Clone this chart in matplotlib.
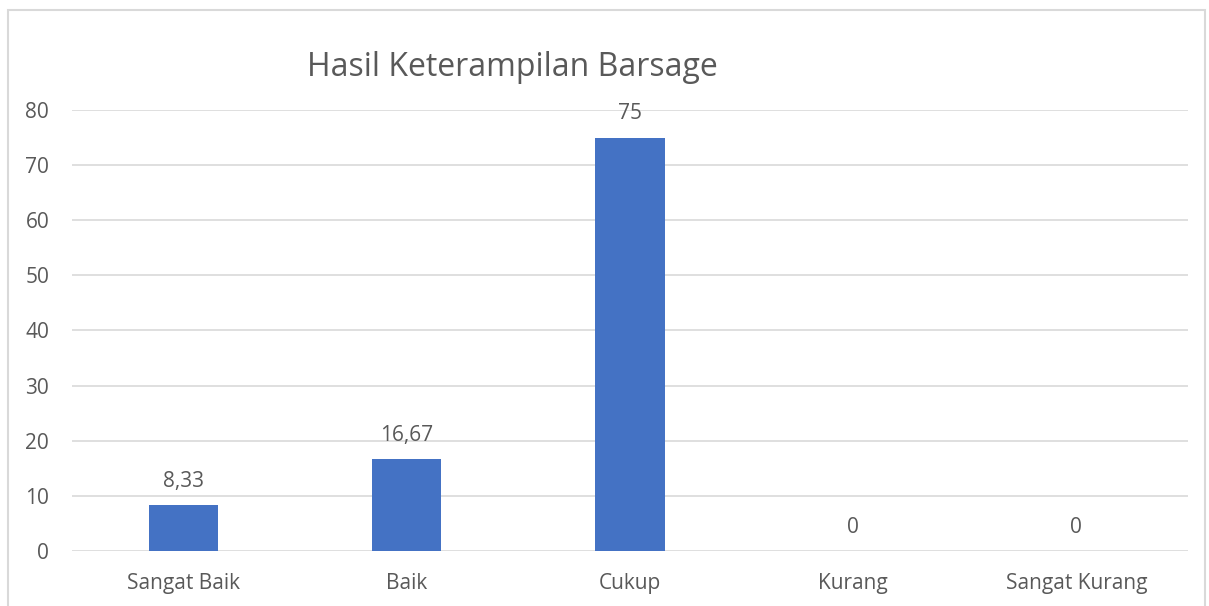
import matplotlib.pyplot as plt
import numpy as np

kategori = ["Sangat Baik", "Baik", "Cukup", "Kurang", "Sangat Kurang"]
nilai = [8.33, 16.67, 75, 0, 0]
label_nilai = ["8,33", "16,67", "75", "0", "0"]
y_ticks = [0, 10, 20, 30, 40, 50, 60, 70, 80]

plt.rcParams["font.family"] = ["Open Sans", "DejaVu Sans"]
teks = "#595959"

fig = plt.figure(figsize=(12.09, 6.06), dpi=100)
ax = fig.add_axes([0.0596, 0.0908, 0.9230, 0.7277])

x = np.arange(len(kategori))
ax.bar(x, nilai, 0.31, color="#4472C4", zorder=3)
for xi, v, lab in zip(x, nilai, label_nilai):
    ax.annotate(lab, (xi, v), xytext=(0, 9.5), textcoords="offset points",
                ha="center", va="bottom", fontsize=15, color=teks)

ax.set_xlim(-0.5, len(kategori) - 0.5)
ax.set_ylim(0, 80)
ax.set_yticks(y_ticks)
ax.set_xticks(x, kategori)
ax.grid(axis="y", color="#D9D9D9", linewidth=1.2, zorder=0)
for s in ax.spines.values():
    s.set_visible(False)
ax.tick_params(length=0, labelsize=15, colors=teks)
ax.tick_params(axis="y", pad=16.5)
ax.tick_params(axis="x", pad=16)

fig.text(0.4235, 0.888, "Hasil Keterampilan Barsage", ha="center", va="center",
         fontsize=23, color=teks)

# frame around the chart
fig.patches.append(plt.Rectangle((0.007, -0.05), 0.99, 1.033, transform=fig.transFigure,
                                 fill=False, edgecolor="#D9D9D9", linewidth=1.5))

fig.savefig("out.png", dpi=100)
